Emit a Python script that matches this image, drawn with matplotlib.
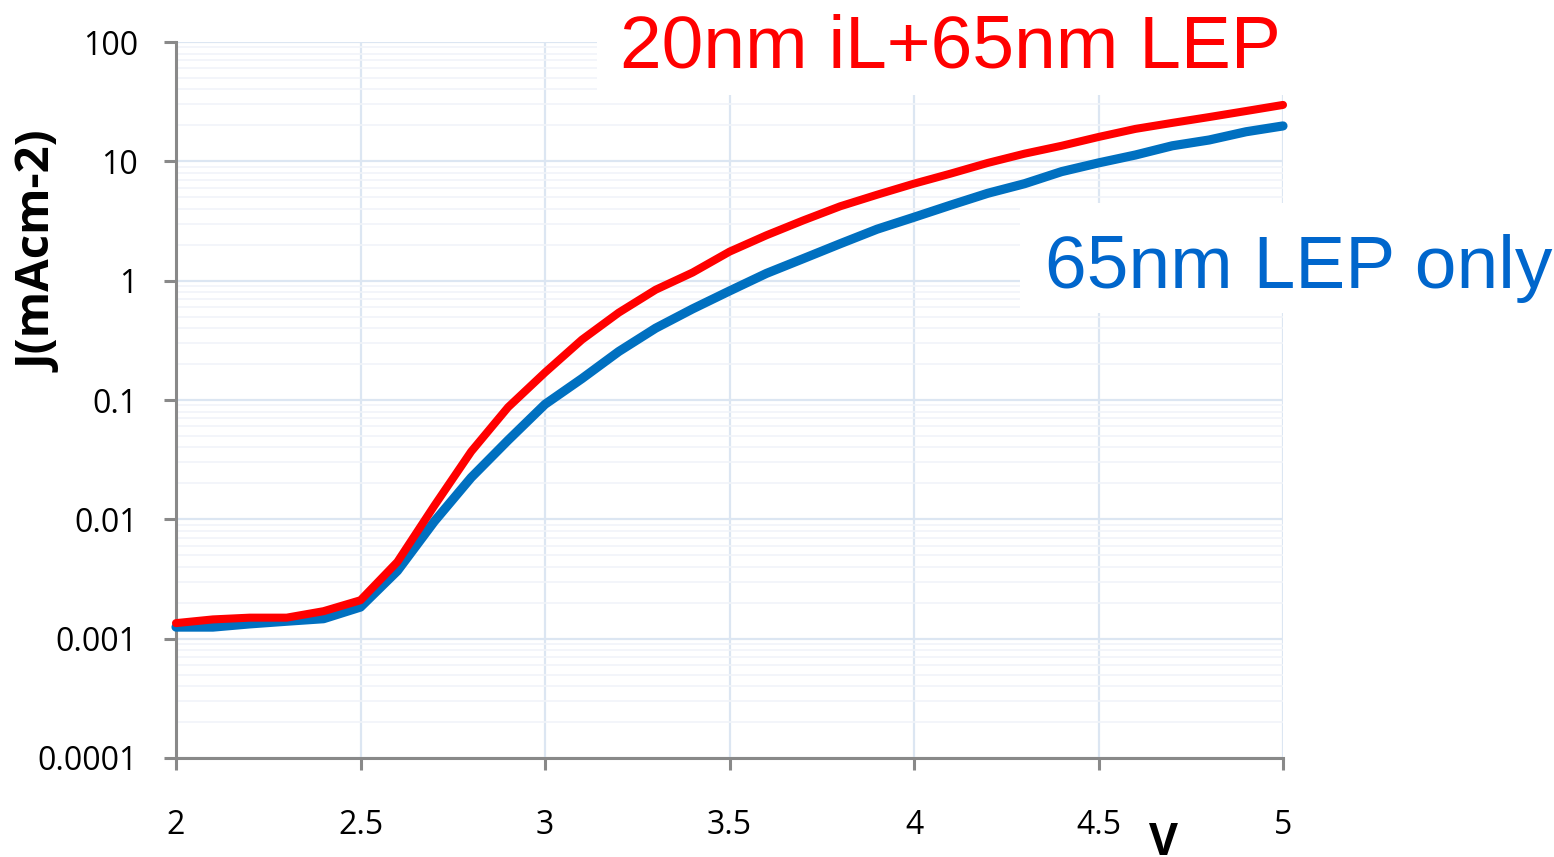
import matplotlib
matplotlib.use("Agg")
import matplotlib.pyplot as plt
from matplotlib.patches import Rectangle
from matplotlib.ticker import LogLocator, FixedLocator, FixedFormatter

# Current density vs. applied voltage for two device stacks
voltage = [2.0, 2.1, 2.2, 2.3, 2.4, 2.5, 2.6, 2.7, 2.8, 2.9,
           3.0, 3.1, 3.2, 3.3, 3.4, 3.5, 3.6, 3.7, 3.8, 3.9,
           4.0, 4.1, 4.2, 4.3, 4.4, 4.5, 4.6, 4.7, 4.8, 4.9, 5.0]

j_interlayer = [1.35e-3, 1.45e-3, 1.5e-3, 1.5e-3, 1.7e-3, 2.1e-3, 4.4e-3, 0.013, 0.037, 0.087,
                0.17, 0.32, 0.54, 0.84, 1.17, 1.75, 2.4, 3.2, 4.2, 5.25,
                6.5, 7.9, 9.7, 11.6, 13.5, 16.0, 18.7, 21.0, 23.5, 26.4, 29.7]

j_lep_only = [1.25e-3, 1.25e-3, 1.33e-3, 1.4e-3, 1.47e-3, 1.84e-3, 3.7e-3, 0.0096, 0.0224, 0.046,
              0.092, 0.151, 0.255, 0.40, 0.58, 0.82, 1.15, 1.53, 2.04, 2.7,
              3.4, 4.3, 5.4, 6.5, 8.2, 9.7, 11.3, 13.5, 15.1, 17.7, 19.8]

x_ticks = [2, 2.5, 3, 3.5, 4, 4.5, 5]
x_tick_labels = ["2", "2.5", "3", "3.5", "4", "4.5", "5"]
y_ticks = [1e-4, 1e-3, 1e-2, 1e-1, 1, 10, 100]
y_tick_labels = ["0.0001", "0.001", "0.01", "0.1", "1", "10", "100"]

label_interlayer = "20nm iL+65nm LEP"
label_lep_only = "65nm LEP only"

RED = "#ff0000"
BLUE = "#0070c0"
AXIS_GRAY = "#898989"
GRID = "#dce6f2"
GRID_MINOR = "#f1f4f9"

W, H = 1554, 857
fig = plt.figure(figsize=(W / 100, H / 100), dpi=100)
fig.patch.set_facecolor("white")

ax = fig.add_axes([176 / W, 1 - 758 / H, (1283 - 176) / W, (758 - 42) / H])
ax.set_yscale("log")
ax.set_xlim(2, 5)
ax.set_ylim(1e-4, 100)

ax.plot(voltage, j_lep_only, color=BLUE, lw=6.6, solid_capstyle="round",
        solid_joinstyle="round", zorder=3, clip_on=False)
ax.plot(voltage, j_interlayer, color=RED, lw=5.8, solid_capstyle="round",
        solid_joinstyle="round", zorder=4, clip_on=False)

# grid
ax.yaxis.set_minor_locator(LogLocator(base=10, subs=range(2, 10), numticks=20))
ax.grid(True, which="major", axis="both", color=GRID, lw=1.6, zorder=0)
ax.grid(True, which="minor", axis="y", color=GRID_MINOR, lw=1.2, zorder=0)
ax.set_axisbelow(True)

ax.xaxis.set_major_locator(FixedLocator(x_ticks))
ax.xaxis.set_major_formatter(FixedFormatter(x_tick_labels))
ax.yaxis.set_major_locator(FixedLocator(y_ticks))
ax.yaxis.set_major_formatter(FixedFormatter(y_tick_labels))

for side in ("top", "right"):
    ax.spines[side].set_visible(False)
for side in ("left", "bottom"):
    ax.spines[side].set_color(AXIS_GRAY)
    ax.spines[side].set_linewidth(2.2)

tick_font = "Open Sans"
ax.tick_params(axis="both", which="major", direction="out", length=8.5,
               width=2.2, color=AXIS_GRAY, labelsize=23, labelcolor="black")
ax.tick_params(axis="x", pad=28)
ax.tick_params(axis="y", pad=19)
ax.tick_params(axis="y", which="minor", length=0)
for lbl in ax.get_xticklabels() + ax.get_yticklabels():
    lbl.set_fontfamily(tick_font)

# axis titles
fig.text(40 / W, 1 - 252 / H, "J(mAcm-2)", rotation=90, ha="center", va="center",
         fontsize=34, fontweight="bold", family=tick_font, color="black")
fig.text(1163 / W, 1 - 855 / H, "V", ha="center", va="baseline",
         fontsize=32, fontweight="bold", family=tick_font, color="black")

# series labels on white panels
fig.patches.append(Rectangle((597 / W, 1 - 95 / H), (1295 - 597) / W, 95 / H,
                             transform=fig.transFigure, facecolor="white",
                             edgecolor="none", zorder=5))
fig.patches.append(Rectangle((1020 / W, 1 - 313 / H), (W - 1020) / W, (313 - 203) / H,
                             transform=fig.transFigure, facecolor="white",
                             edgecolor="none", zorder=5))
fig.text(620 / W, 1 - 67 / H, label_interlayer, ha="left", va="baseline",
         fontsize=54, family="Liberation Sans", color=RED, zorder=6)
fig.text(1045 / W, 1 - 288 / H, label_lep_only, ha="left", va="baseline",
         fontsize=54, family="Liberation Sans", color="#0066cc", zorder=6)

fig.savefig("out.png", dpi=100, facecolor="white")
